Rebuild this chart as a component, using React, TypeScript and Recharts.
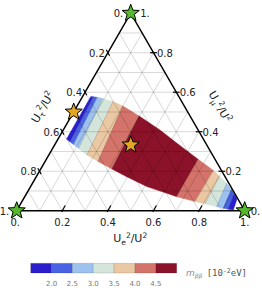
import { Scatter, ScatterChart, XAxis, YAxis } from 'recharts'

const W = 262
const H = 291
// pixel frame of the ternary triangle (bottom-left corner, side length)
const X0 = 16.7
const Y0 = 210.7
const SIDE = 228
const SQ = Math.sqrt(3) / 2
const font = 'DejaVu Sans, sans-serif'

type Tern = [number, number] // [Ue²/U², Uμ²/U²], Uτ² = 1 - both

const tickVals = [0, 0.2, 0.4, 0.6, 0.8, 1]
const tickText = ['0.', '0.2', '0.4', '0.6', '0.8', '1.']
const gridSteps = [0.1, 0.2, 0.3, 0.4, 0.5, 0.6, 0.7, 0.8, 0.9]

// outline of the allowed region
const upperEdge: Tern[] = [
  [0.036, 0.578], [0.048, 0.577], [0.067, 0.574], [0.094, 0.568], [0.146, 0.553],
  [0.201, 0.53], [0.297, 0.48], [0.424, 0.409], [0.551, 0.33], [0.666, 0.26],
  [0.761, 0.204], [0.803, 0.173], [0.852, 0.139], [0.888, 0.107], [0.911, 0.085],
  [0.937, 0.059],
]
const lowerEdge: Tern[] = [
  [0.037, 0.363], [0.06, 0.348], [0.082, 0.335], [0.114, 0.315], [0.167, 0.282],
  [0.232, 0.249], [0.312, 0.211], [0.396, 0.172], [0.509, 0.122], [0.614, 0.088],
  [0.666, 0.071], [0.759, 0.046], [0.809, 0.034], [0.867, 0.02], [0.9, 0.012],
  [0.925, 0.007], [0.948, 0.004],
]
// where the contour levels cross the outline
const upperCuts = [0, 1, 2, 3, 4, 5, 6, 9, 10, 11, 12, 13, 14, 15]
const lowerCuts = [0, 1, 2, 3, 4, 5, 6, 10, 11, 12, 13, 14, 15, 16]

const levels = ['2.0', '2.5', '3.0', '3.5', '4.0', '4.5']
const levelColors = ['#2b1fcc', '#4a63e3', '#9ec2f0', '#d4e6dc', '#ebc8a4', '#d4736a', '#8b1229']
const bandLevels = [0, 1, 2, 3, 4, 5, 6, 5, 4, 3, 2, 1, 0]

const cornerStars: Tern[] = [[0, 0], [1, 0], [0, 1]]
const pointStars: Tern[] = [[0, 0.5], [1 / 3, 1 / 3]]

const toXY = ([e, mu]: Tern) => ({ x: e + mu / 2, y: mu * SQ })
const fromPx = (px: number, py: number) => ({ x: (px - X0) / SIDE, y: (Y0 - py) / SIDE })
const xDomain = [-X0 / SIDE, (W - X0) / SIDE]
const yDomain = [(Y0 - H) / SIDE, Y0 / SIDE]

const ptsAttr = (pts: { x: number; y: number }[] = []) => pts.map((p) => `${p.x},${p.y}`).join(' ')
const none = () => <g />

const bands = bandLevels.map((lvl, i) => {
  const top = upperEdge.slice(upperCuts[i], upperCuts[i + 1] + 1)
  const bottom = lowerEdge.slice(lowerCuts[i], lowerCuts[i + 1] + 1).reverse()
  return { color: levelColors[lvl], pts: [...top, ...bottom].map(toXY) }
})
const cutLines = upperCuts.slice(1, -1).map((u, i) => [upperEdge[u], lowerEdge[lowerCuts[i + 1]]].map(toXY))

const gridLines = gridSteps.flatMap((v) => [
  [[v, 0], [v, 1 - v]],
  [[0, v], [1 - v, v]],
  [[0, 1 - v], [1 - v, 0]],
] as Tern[][]).map((l) => l.map(toXY))

const tickMarks = tickVals.slice(1, -1).flatMap((v) => [
  [[v, -0.006], [v, 0.026]],
  [[-0.015, 1 - v + 0.015], [0.015, 1 - v - 0.015]],
  [[1 - v - 0.015, v], [1 - v + 0.015, v]],
] as Tern[][]).map((l) => l.map(toXY))

const frame = ([[0, 0], [1, 0], [0, 1], [0, 0]] as Tern[]).map(toXY)

const tickLabels = tickVals.flatMap((v, i) => {
  const end = i === 0 || i === tickVals.length - 1
  return [
    { ...toXY([v, 0]), text: tickText[i], anchor: 'middle', dx: i === 0 ? -1.5 : 0, dy: 15 },
    { ...toXY([0, 1 - v]), text: tickText[i], anchor: 'end', dx: end ? -7.5 : -3, dy: 4 },
    { ...toXY([1 - v, v]), text: tickText[i], anchor: 'start', dx: i === 0 ? 6 : end ? 9.5 : 3.5, dy: 4 },
  ]
})

const CB_X0 = 30.7
const CB_X1 = 176.7
const CB_Y0 = 263.3
const CB_Y1 = 273
const cbW = (CB_X1 - CB_X0) / levelColors.length
const cbCells = levelColors.map((c, i) => ({
  color: c,
  pts: [
    fromPx(CB_X0 + i * cbW, CB_Y0), fromPx(CB_X0 + (i + 1) * cbW, CB_Y0),
    fromPx(CB_X0 + (i + 1) * cbW, CB_Y1), fromPx(CB_X0 + i * cbW, CB_Y1),
  ],
}))
const cbLabels = levels.map((t, i) => ({ ...fromPx(CB_X0 + (i + 1) * cbW, 285.5), text: t }))

function Star(props: any) {
  const { cx, cy, color } = props
  const pts: string[] = []
  for (let i = 0; i < 10; i++) {
    const r = i % 2 === 0 ? 9 : 3.8
    const a = -Math.PI / 2 + (i * Math.PI) / 5
    pts.push(`${cx + r * Math.cos(a)},${cy + r * Math.sin(a)}`)
  }
  return <polygon points={pts.join(' ')} fill={color} stroke="#000" strokeWidth={1} />
}

function Title({ cx, cy, sub, rotate }: { cx: number; cy: number; sub: string; rotate: number }) {
  return (
    <text
      x={cx}
      y={cy}
      textAnchor="middle"
      fontFamily={font}
      fontSize={11}
      fill="#222"
      transform={rotate ? `rotate(${rotate} ${cx} ${cy})` : undefined}
    >
      U<tspan fontSize={7.5} dy={2.5}>{sub}</tspan>
      <tspan fontSize={7.5} dy={-7}>2</tspan>
      <tspan dy={4.5}>/U</tspan>
      <tspan fontSize={7.5} dy={-4.5}>2</tspan>
    </text>
  )
}

const polyline = (stroke: string, width: number) => (p: any) =>
  <polyline points={ptsAttr(p.points)} fill="none" stroke={stroke} strokeWidth={width} />

export default function App() {
  return (
    <div style={{ position: 'absolute', left: 0, top: 0, width: W, height: H, background: '#fff' }}>
      <ScatterChart width={W} height={H} margin={{ top: 0, right: 0, bottom: 0, left: 0 }}>
        <XAxis type="number" dataKey="x" domain={xDomain} hide allowDataOverflow />
        <YAxis type="number" dataKey="y" domain={yDomain} hide allowDataOverflow />

        {bands.map((b, i) => (
          <Scatter
            key={`band${i}`}
            data={b.pts}
            isAnimationActive={false}
            shape={none}
            line={(p: any) => <polygon points={ptsAttr(p.points)} fill={b.color} stroke={b.color} strokeWidth={0.4} />}
          />
        ))}
        {cutLines.map((l, i) => (
          <Scatter key={`cut${i}`} data={l} isAnimationActive={false} shape={none} line={polyline('rgba(0,0,0,0.25)', 0.6)} />
        ))}
        {gridLines.map((l, i) => (
          <Scatter key={`grid${i}`} data={l} isAnimationActive={false} shape={none} line={polyline('rgba(0,0,0,0.2)', 0.8)} />
        ))}
        <Scatter data={frame} isAnimationActive={false} shape={none} line={polyline('#000', 1.5)} />
        {tickMarks.map((l, i) => (
          <Scatter key={`tick${i}`} data={l} isAnimationActive={false} shape={none} line={polyline('#000', 1.2)} />
        ))}

        <Scatter
          data={tickLabels}
          isAnimationActive={false}
          shape={(p: any) => (
            <text x={p.cx + p.payload.dx} y={p.cy + p.payload.dy} textAnchor={p.payload.anchor} fontFamily={font} fontSize={10} fill="#222">
              {p.payload.text}
            </text>
          )}
        />
        <Scatter data={[toXY([0.5, 0])]} isAnimationActive={false} shape={(p: any) => <Title cx={p.cx - 0.5} cy={p.cy + 31.5} sub="e" rotate={0} />} />
        <Scatter data={[toXY([0, 0.5])]} isAnimationActive={false} shape={(p: any) => <Title cx={p.cx - 27.7} cy={p.cy - 3} sub="τ" rotate={-60} />} />
        <Scatter data={[toXY([0.5, 0.5])]} isAnimationActive={false} shape={(p: any) => <Title cx={p.cx + 29} cy={p.cy - 3.3} sub="μ" rotate={60} />} />

        <Scatter data={cornerStars.map(toXY)} isAnimationActive={false} shape={(p: any) => <Star {...p} color="#56b82e" />} />
        <Scatter data={pointStars.map(toXY)} isAnimationActive={false} shape={(p: any) => <Star {...p} color="#e1a623" />} />

        {cbCells.map((c, i) => (
          <Scatter
            key={`cb${i}`}
            data={c.pts}
            isAnimationActive={false}
            shape={none}
            line={(p: any) => <polygon points={ptsAttr(p.points)} fill={c.color} stroke="rgba(0,0,0,0.25)" strokeWidth={0.5} />}
          />
        ))}
        <Scatter
          data={cbLabels}
          isAnimationActive={false}
          shape={(p: any) => (
            <text x={p.cx} y={p.cy} textAnchor="middle" fontFamily={font} fontSize={7} fill="#777">
              {p.payload.text}
            </text>
          )}
        />
        <Scatter
          data={[fromPx(186, 276.3)]}
          isAnimationActive={false}
          shape={(p: any) => (
            <g>
              <text x={p.cx} y={p.cy} fontFamily={font} fontSize={9} fontStyle="italic" fill="#888">
                m<tspan fontSize={6} dy={1.5}>ββ</tspan>
              </text>
              <text x={p.cx + 20.7} y={p.cy} fontFamily="DejaVu Sans Mono, monospace" fontSize={9} fill="#555">
                [10<tspan fontSize={6.5} dy={-3.5}>-2</tspan>
                <tspan dy={3.5}>eV]</tspan>
              </text>
            </g>
          )}
        />
      </ScatterChart>
    </div>
  )
}
